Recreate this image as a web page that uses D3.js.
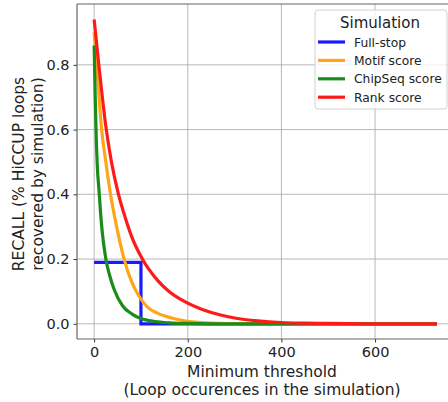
<!DOCTYPE html>
<html>
<head>
<meta charset="utf-8">
<script src="https://cdn.jsdelivr.net/npm/d3@7"></script>
<style>
  body { margin: 0; background: #fff; }
  text { font-family: "DejaVu Sans", sans-serif; fill: #222; }
</style>
</head>
<body>
<div id="chart"></div>
<script>
// data
const seriesNames = ["Full-stop", "Motif score", "ChipSeq score", "Rank score"];
const seriesColours = ["#1a1aff", "#ffa51a", "#1a8c1a", "#ff1a1a"];

const fullStop = [[0, 0.19], [100, 0.19], [100, 0], [732, 0]];
const motifScore = [[0, 0.9], [8, 0.75], [16, 0.6], [25, 0.5], [35, 0.4], [48, 0.3], [64, 0.2],
  [80, 0.13], [96, 0.085], [115, 0.05], [135, 0.033], [153, 0.023], [190, 0.01], [240, 0.003],
  [300, 0.0005], [400, 0], [732, 0]];
const chipSeqScore = [[0, 0.86], [2, 0.72], [4, 0.6], [7, 0.48], [10, 0.42], [15, 0.32], [25, 0.2],
  [33, 0.15], [43, 0.105], [61, 0.055], [81, 0.03], [100, 0.016], [130, 0.007], [160, 0.003],
  [200, 0.001], [250, 0], [732, 0]];
const rankScore = [[0, 0.94], [10, 0.80], [25, 0.61], [37, 0.5], [52, 0.40], [66, 0.33],
  [80, 0.27], [103, 0.20], [135, 0.135], [160, 0.1], [189, 0.072], [231, 0.044], [270, 0.027],
  [300, 0.018], [350, 0.009], [400, 0.004], [450, 0.002], [500, 0.001], [600, 0], [732, 0]];

const xTicks = [0, 200, 400, 600];
const yTicks = [0, 0.2, 0.4, 0.6, 0.8];

const allSeries = [fullStop, motifScore, chipSeqScore, rankScore];

const width = 448, height = 402;
const margin = {top: 4, right: -6, bottom: 63, left: 77};
const w = width - margin.left - margin.right,
      h = height - margin.top - margin.bottom;

const svg = d3.select("#chart")
  .append("svg")
  .attr("width", width)
  .attr("height", height);

const g = svg.append("g")
  .attr("transform", `translate(${margin.left}, ${margin.top})`);

const x = d3.scaleLinear().domain([-36.6, 768.6]).range([0, w]);
const y = d3.scaleLinear().domain([-0.047, 0.988]).range([h, 0]);

// grid
g.append("g").selectAll("line").data(xTicks).enter().append("line")
  .attr("x1", d => x(d)).attr("x2", d => x(d))
  .attr("y1", 0).attr("y2", h)
  .attr("stroke", "#b0b0b0").attr("stroke-width", 0.9);
g.append("g").selectAll("line").data(yTicks).enter().append("line")
  .attr("x1", 0).attr("x2", w)
  .attr("y1", d => y(d)).attr("y2", d => y(d))
  .attr("stroke", "#b0b0b0").attr("stroke-width", 0.9);

// axes
const xAxis = g.append("g")
  .attr("transform", `translate(0, ${h})`)
  .call(d3.axisBottom(x).tickValues(xTicks).tickSize(3.5).tickPadding(4).tickFormat(d3.format("d")));
const yAxis = g.append("g")
  .call(d3.axisLeft(y).tickValues(yTicks).tickSize(3.5).tickPadding(4).tickFormat(d3.format(".1f")));

[xAxis, yAxis].forEach(function(a) {
  a.select(".domain").remove();
  a.selectAll(".tick line").attr("stroke", "#333");
  a.selectAll(".tick text").style("font-size", "14.5px").attr("fill", "#222");
});

// spines
g.append("line").attr("x1", 0).attr("x2", 0).attr("y1", 0).attr("y2", h).attr("stroke", "#666").attr("stroke-width", 1.2);
g.append("line").attr("x1", 0).attr("x2", w).attr("y1", h).attr("y2", h).attr("stroke", "#666").attr("stroke-width", 1.2);
g.append("line").attr("x1", 0).attr("x2", w).attr("y1", 0).attr("y2", 0).attr("stroke", "#666").attr("stroke-width", 1.2);

// lines
const line = d3.line().x(d => x(d[0])).y(d => y(d[1])).curve(d3.curveMonotoneX);
const stepLine = d3.line().x(d => x(d[0])).y(d => y(d[1]));

allSeries.forEach(function(s, i) {
  g.append("path")
    .datum(s)
    .attr("d", i === 0 ? stepLine : line)
    .attr("fill", "none")
    .attr("stroke", seriesColours[i])
    .attr("stroke-width", 3.2)
    .attr("stroke-linejoin", "miter");
});

// axis labels
svg.append("text")
  .attr("x", 262).attr("y", 377)
  .attr("text-anchor", "middle")
  .style("font-size", "15.5px")
  .text("Minimum threshold");
svg.append("text")
  .attr("x", 262).attr("y", 395)
  .attr("text-anchor", "middle")
  .style("font-size", "15.5px")
  .text("(Loop occurences in the simulation)");

const yl = svg.append("text")
  .attr("transform", "translate(0, 174) rotate(-90)")
  .attr("text-anchor", "middle")
  .style("font-size", "15.5px");
yl.append("tspan").attr("x", 0).attr("y", 24).text("RECALL (% HiCCUP loops");
yl.append("tspan").attr("x", 0).attr("y", 43).text("recovered by simulation)");

// legend
const legend = svg.append("g").attr("transform", "translate(315, 10)");
legend.append("rect")
  .attr("width", 132).attr("height", 99)
  .attr("rx", 3)
  .attr("fill", "#fff").attr("fill-opacity", 0.8)
  .attr("stroke", "#d0d0d0");
legend.append("text")
  .attr("x", 65).attr("y", 18)
  .attr("text-anchor", "middle")
  .style("font-size", "15px")
  .text("Simulation");
seriesNames.forEach(function(name, i) {
  const yy = 32 + i * 18.4;
  legend.append("line")
    .attr("x1", 3).attr("x2", 30)
    .attr("y1", yy).attr("y2", yy)
    .attr("stroke", seriesColours[i]).attr("stroke-width", 3.2);
  legend.append("text")
    .attr("x", 39).attr("y", yy + 4.5)
    .style("font-size", "12.3px")
    .text(name);
});
</script>
</body>
</html>
